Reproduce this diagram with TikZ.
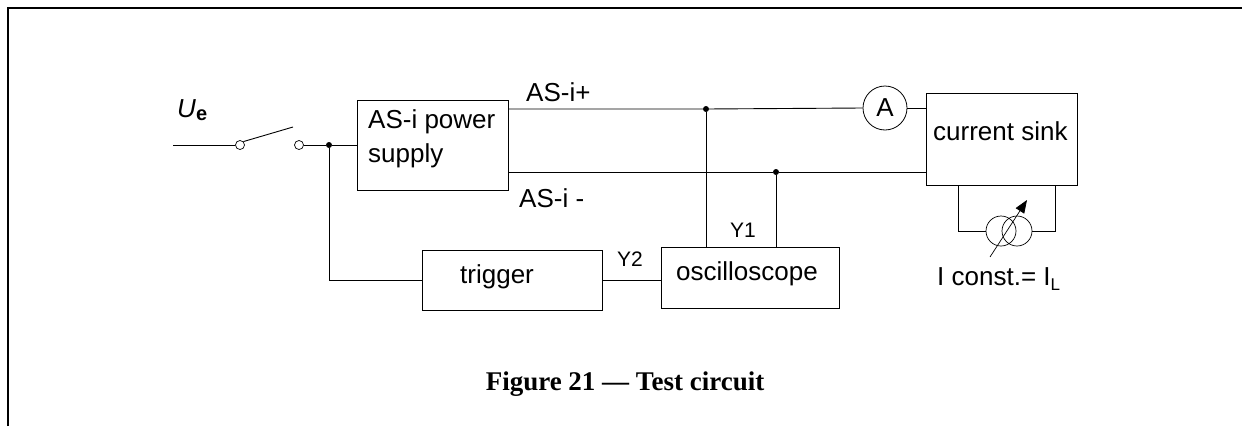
\documentclass[tikz,border=0pt]{standalone}
\usepackage{fontspec}
\setmainfont{Liberation Sans}
\newfontfamily\capfont[Ligatures=TeX]{Liberation Serif}
\usepackage{tikz}
\usetikzlibrary{positioning,arrows.meta}

\begin{document}
\begin{tikzpicture}[x=1pt,y=-1pt]
\tikzstyle{block}=[rectangle, draw=black, line width=0.9pt, inner sep=0pt]
\tikzstyle{term}=[circle, draw=black, fill=white, line width=0.7pt, minimum size=9pt, inner sep=0pt]
\tikzstyle{dot}=[circle, fill=black, minimum size=6pt, inner sep=0pt]
\tikzstyle{txt}=[inner sep=0pt, anchor=base west, font=\fontsize{26}{30}\selectfont]
\tikzstyle{small}=[inner sep=0pt, anchor=base west, font=\fontsize{21}{24}\selectfont]
\tikzstyle{wire}=[line width=0.9pt]

\useasboundingbox (0,0) rectangle (1242,426);
\draw[line width=2.7pt] (8,426) -- (8,8) -- (1242,8);

	% switch and supply
	\coordinate (ue) at (173,145);
	\node[term] (sw_1) at (240,145) []{};
	\node[term] (sw_2) at (299,145) []{};
	\coordinate (blade) at (293,127);
	\node[dot] (j_1) at (329,145) []{};
	\node[block, minimum width=151pt, minimum height=90pt] (psu) at (432.5,145) []{};

	% bus junctions
	\node[dot] (j_p) at (706,109) []{};
	\node[dot] (j_m) at (776,172) []{};
	\node[circle, draw=black, line width=0.8pt, minimum size=44pt, inner sep=0pt,
	      font=\fontsize{26}{30}\selectfont] (amp) at (885,108) []{A};

	% boxes
	\node[block, minimum width=151pt, minimum height=92pt] (sink) at (1001.5,139) []{};
	\node[block, minimum width=178pt, minimum height=61pt] (osc) at (750,277.5) []{};
	\node[block, minimum width=180pt, minimum height=60pt] (trig) at (512,280) []{};

	% constant current source
	\node[circle, draw=black, line width=0.7pt, minimum size=30pt, inner sep=0pt] (src_1) at (1001,231) []{};
	\node[circle, draw=black, line width=0.7pt, minimum size=30pt, inner sep=0pt] (src_2) at (1017,231) []{};
	\coordinate (sink_l) at (958,185);
	\coordinate (sink_r) at (1055,185);
	\coordinate (tail) at (990,257);
	\coordinate (tip) at (1027,200);

	% texts
	\node[txt] (lbl_ue) at (177,117) {\textit{U}\raisebox{-3pt}{\fontsize{20}{22}\selectfont\bfseries e}};
	\node[txt] (lbl_psu1) at (368,128) {AS-i power};
	\node[txt] (lbl_psu2) at (368,162) {supply};
	\node[txt] (lbl_plus) at (526,101) {AS-i+};
	\node[txt] (lbl_minus) at (519,207) {AS-i -};
	\node[small] (lbl_y1) at (730,237) {Y1};
	\node[small] (lbl_y2) at (617,266) {Y2};
	\node[txt] (lbl_osc) at (676,280) {oscilloscope};
	\node[txt] (lbl_trig) at (460,283) {trigger};
	\node[txt] (lbl_sink) at (933,140) {current sink};
	\node[txt] (lbl_il) at (937,285) {I const.= I\raisebox{-5pt}{\fontsize{17}{18}\selectfont L}};
	\node[inner sep=0pt, anchor=base, font=\capfont\bfseries\fontsize{27}{30}\selectfont] (caption) at (625,390) {Figure 21 --- Test circuit};

	\draw[wire] (ue) -- (sw_1.west);
	\draw[wire] (sw_1.north east) -- (blade);
	\draw[wire] (sw_2.east) -- (j_1) -- (psu.west);
	\draw[wire] (j_1) |- (trig.west);
	\draw[wire] (trig.east) -- (trig.east -| osc.west);
	\draw[wire] (psu.east |- j_p) -- (j_p) -- (amp.west);
	\draw[wire] (amp.east) -- (amp.east -| sink.west);
	\draw[wire] (psu.east |- j_m) -- (j_m) -- (j_m -| sink.west);
	\draw[wire] (j_p) -- (j_p |- osc.north);
	\draw[wire] (j_m) -- (j_m |- osc.north);
	\draw[wire] (sink_l) |- (src_1.west);
	\draw[wire] (src_2.east) -| (sink_r);
	\draw[line width=0.7pt, -{Triangle[length=13pt,width=10pt]}] (tail) -- (tip);

\end{tikzpicture}
\end{document}
